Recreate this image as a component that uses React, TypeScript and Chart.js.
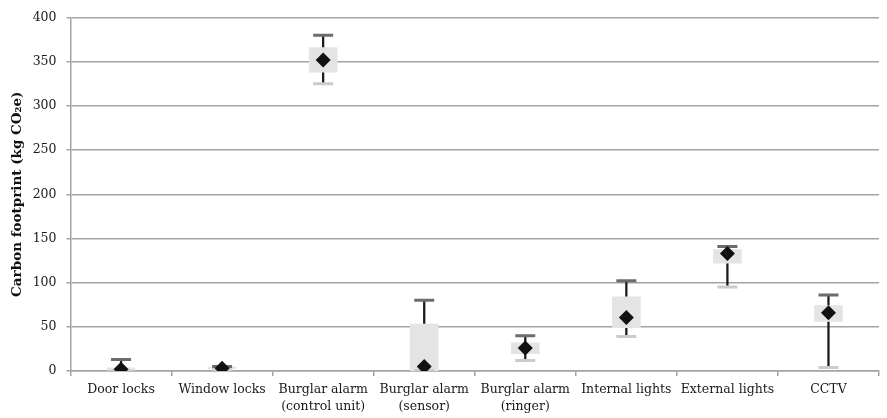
import React, { useEffect, useRef } from "react";
import { Chart, registerables } from "chart.js";

Chart.register(...registerables);

const categories: (string | string[])[] = [
  "Door locks",
  "Window locks",
  ["Burglar alarm", "(control unit)"],
  ["Burglar alarm", "(sensor)"],
  ["Burglar alarm", "(ringer)"],
  "Internal lights",
  "External lights",
  "CCTV",
];

const minValues = [0, 1, 325, 0.5, 12, 39, 95, 4];
const q1Values = [0, 2.5, 338, 0.5, 19.5, 49, 122, 56];
const q3Values = [3.5, 4.5, 366, 53, 32, 84, 137.5, 74];
const maxValues = [13, 5, 380, 80, 40, 102, 141, 86];
const meanValues = [2, 3, 352, 5, 26, 60.5, 133, 66];

const yTickStep = 50;
const yMin = 0;
const yMax = 400;

export default function App() {
  const ref = useRef<HTMLCanvasElement>(null);

  useEffect(() => {
    const canvas = ref.current;
    if (!canvas) return;
    Chart.defaults.font.family = "'DejaVu Serif', serif";
    const gridColor = "#a3a3a3";
    const chart = new Chart(canvas, {
      type: "bar",
      data: {
        labels: categories,
        datasets: [
          {
            type: "line",
            label: "Mean",
            data: meanValues,
            showLine: false,
            pointStyle: "rectRot",
            pointRadius: 7.5,
            pointBackgroundColor: "#111111",
            pointBorderColor: "#111111",
            pointBorderWidth: 0,
            order: 1,
          } as any,
          {
            type: "line",
            label: "Max",
            data: maxValues,
            showLine: false,
            pointStyle: "line",
            pointRadius: 10,
            pointBorderColor: "#6c6c6c",
            pointBorderWidth: 3,
            order: 2,
          } as any,
          {
            type: "line",
            label: "Min",
            data: minValues,
            showLine: false,
            pointStyle: "line",
            pointRadius: 10,
            pointBorderColor: "#cbcbcb",
            pointBorderWidth: 3,
            order: 3,
          } as any,
          {
            type: "bar",
            label: "Box",
            data: q1Values.map((q, i) => [q, q3Values[i]]),
            backgroundColor: "#e4e4e4",
            borderWidth: 0,
            barThickness: 28,
            grouped: false,
            order: 4,
          } as any,
          {
            type: "bar",
            label: "Whisker",
            data: minValues.map((m, i) => [m, maxValues[i]]),
            backgroundColor: "#1a1a1a",
            borderWidth: 0,
            barThickness: 1.6,
            grouped: false,
            order: 5,
          } as any,
        ],
      },
      options: {
        animation: false,
        responsive: false,
        maintainAspectRatio: false,
        layout: { padding: { top: 16, right: 2, left: 0, bottom: 0 } },
        plugins: {
          legend: { display: false },
          tooltip: { enabled: false },
        },
        scales: {
          x: {
            grid: {
              display: true,
              drawOnChartArea: false,
              drawTicks: true,
              tickLength: 5,
              color: gridColor,
              lineWidth: 1.5,
              offset: true,
            },
            border: { color: gridColor, width: 1.5 },
            ticks: {
              font: { size: 12.5, lineHeight: 1.38 },
              color: "#1a1a1a",
              padding: 5,
              maxRotation: 0,
              autoSkip: false,
            },
            afterFit: (s: any) => {
              s.height = 47;
            },
          },
          y: {
            min: yMin,
            max: yMax,
            ticks: {
              stepSize: yTickStep,
              padding: 10,
              font: { size: 12.5 },
              color: "#1a1a1a",
            },
            grid: { color: gridColor, lineWidth: 1.5, tickLength: 4 },
            border: { color: gridColor, width: 1.5 },
            title: {
              display: true,
              text: "Carbon footprint (kg CO\u2082e)",
              font: { size: 13.5, weight: "bold" },
              color: "#111111",
              padding: { top: 9, bottom: 0 },
            },
            afterFit: (s: any) => {
              s.width = 70.5;
            },
          },
        },
      } as any,
    });
    return () => chart.destroy();
  }, []);

  return (
    <div
      style={{
        position: "fixed",
        left: 0,
        top: 0,
        width: 887,
        height: 418,
        overflow: "hidden",
        background: "#ffffff",
      }}
    >
      <canvas
        ref={ref}
        width={892}
        height={418}
        style={{ display: "block", width: 892, height: 418 }}
      />
    </div>
  );
}
